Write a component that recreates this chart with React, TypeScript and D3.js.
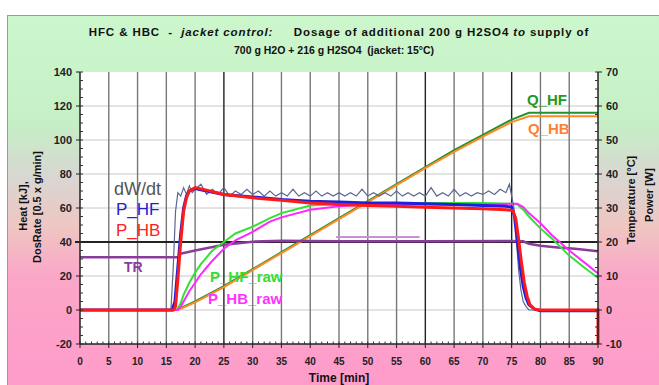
import React from 'react';
import * as d3 from 'd3';

// axis ticks
const timeTicks = [0, 5, 10, 15, 20, 25, 30, 35, 40, 45, 50, 55, 60, 65, 70, 75, 80, 85, 90];
const leftTicks = [-20, 0, 20, 40, 60, 80, 100, 120, 140];
const rightTicks = [-10, 0, 10, 20, 30, 40, 50, 60, 70];
const darkGridTimes = [25, 60, 75];

// series, [time min, value] ; left axis units unless noted
const dWdt: [number, number][] = [
  [0, 0], [15.8, 0], [16.2, 25], [16.6, 58], [17, 69], [17.5, 67], [18, 72], [18.5, 68], [19, 73], [19.5, 69],
  [20, 71], [21, 74], [22, 68], [23, 71], [24, 68], [25, 72], [26, 67], [27, 70], [28, 68], [29, 71],
  [30, 68], [31, 70], [32, 67], [33, 70], [34, 67], [35, 69], [36, 67], [37, 71], [38, 67], [39, 69],
  [40, 67], [41, 70], [42, 67], [43, 69], [44, 67], [45, 69], [46, 67], [47, 69], [48, 67], [49, 71],
  [50, 67], [51, 69], [52, 67], [53, 69], [54, 67], [55, 70], [56, 67], [57, 69], [58, 67], [59, 69],
  [60, 67], [61, 72], [62, 67], [63, 69], [64, 67], [65, 71], [66, 67], [67, 69], [68, 67], [69, 69],
  [70, 68], [71, 70], [72, 68], [73, 71], [74, 69], [74.6, 74], [75, 67], [75.4, 60], [75.8, 42],
  [76.2, 24], [76.6, 12], [77, 5], [77.5, 2], [78, 0], [90, 0],
];

const pHF: [number, number][] = [
  [0, 0], [16, 0], [16.5, 5], [17, 25], [17.5, 45], [18, 60], [18.5, 67], [19, 70], [20, 71.5], [22, 70],
  [25, 68], [30, 66.5], [35, 65], [40, 64], [45, 63.5], [50, 63], [55, 63], [60, 62.5], [65, 62], [70, 61.5],
  [74, 61], [75, 60.5], [75.5, 55], [76, 40], [76.5, 25], [77, 14], [77.5, 7], [78, 3], [79, 0.5], [80, -0.5], [90, -0.5],
];

const pHB: [number, number][] = [
  [0, 0], [16.2, 0], [16.6, 2], [17, 18], [17.5, 40], [18, 58], [18.5, 66], [19, 70], [20, 72], [22, 70.5],
  [25, 68], [30, 66], [35, 64.5], [40, 63], [45, 62], [50, 61.5], [55, 61], [60, 60.5], [65, 60], [70, 59.5],
  [74, 59], [75.2, 58.5], [75.7, 54], [76.2, 42], [76.7, 28], [77.2, 16], [77.7, 8], [78.2, 3], [79, 0.5], [80, 0],
  [90, 0], [90, -20],
];

const pHFraw: [number, number][] = [
  [0, 0], [16.8, 0], [17.5, 4], [18, 9], [19, 16], [20, 22], [21, 27], [22, 31], [23, 35], [25, 40],
  [27, 45], [30, 49], [33, 54], [35, 57], [40, 61.5], [45, 62.5], [50, 63], [55, 63], [60, 63], [65, 63],
  [70, 63], [75, 62.5], [76, 62], [77, 59], [78, 55], [80, 48], [82, 42], [85, 32], [88, 24], [90, 19],
];

const pHBraw: [number, number][] = [
  [0, 0], [17, 0], [17.5, 2], [18, 5], [19, 11], [20, 16], [21, 21], [22, 25], [23, 29], [25, 36],
  [27, 41], [30, 46], [33, 52], [35, 54.5], [40, 59], [45, 61], [50, 62], [55, 62], [60, 62], [65, 62],
  [70, 62], [75, 62.5], [76, 62.5], [77, 60.5], [78, 57], [80, 51], [82, 44], [85, 35], [88, 27], [90, 21.5],
];

const qHF: [number, number][] = [
  [0, 0], [16.8, 0], [20, 5], [25, 14], [30, 24], [35, 34], [40, 44], [45, 54], [50, 64], [55, 74],
  [60, 84], [65, 94], [70, 103], [75, 112], [78, 116], [90, 116],
];

const qHB: [number, number][] = [
  [0, 0], [17, 0], [20, 4.5], [25, 13.5], [30, 23.5], [35, 33.5], [40, 43.5], [45, 53.5], [50, 63.5], [55, 73.5],
  [60, 83.5], [65, 93], [70, 102], [75, 110.5], [78, 114], [90, 114],
];

// temperatures, right axis [°C]
const tR: [number, number][] = [
  [0, 15.5], [17.2, 15.5], [17.4, 16.5], [20, 17.5], [25, 19.2], [30, 20.1], [35, 20.4], [40, 20.3],
  [45, 20.2], [60, 20.2], [75, 20.3], [77, 20.2], [78, 19.5], [80, 18.9], [83, 18.4], [86, 18], [90, 17.3],
];
const tRset: [number, number][] = [[44.5, 21.5], [59, 21.5]];
const refTemp = 20;

const W = 659;
const H = 385;
const plot = { left: 80, right: 598, top: 72, bottom: 344 };

const App: React.FC = () => {
  const x = d3.scaleLinear().domain([0, 90]).range([plot.left, plot.right]);
  const yL = d3.scaleLinear().domain([-20, 140]).range([plot.bottom, plot.top]);
  const yR = d3.scaleLinear().domain([-10, 70]).range([plot.bottom, plot.top]);

  const lineL = d3.line<[number, number]>().x(d => x(d[0])).y(d => yL(d[1]));
  const lineR = d3.line<[number, number]>().x(d => x(d[0])).y(d => yR(d[1]));

  const minorTime = d3.range(0, 91, 1);
  const minorLeft = d3.range(-20, 141, 5);

  const font = 'Liberation Sans, Arial, sans-serif';

  return (
    <svg width={W} height={H} style={{ position: 'absolute', left: 0, top: 0 }} fontFamily={font}>
      <defs>
        <linearGradient id="bg" x1="0" y1="0" x2="0" y2="1">
          <stop offset="0%" stopColor="#ccf7cc" />
          <stop offset="28%" stopColor="#c6efc6" />
          <stop offset="42%" stopColor="#d9d6d2" />
          <stop offset="55%" stopColor="#efc6c2" />
          <stop offset="68%" stopColor="#fba6c8" />
          <stop offset="100%" stopColor="#ff9acb" />
        </linearGradient>
      </defs>
      <rect x={0} y={0} width={W} height={H} fill="#fff" />
      <rect x={7.5} y={15.5} width={W} height={H} fill="url(#bg)" stroke="#9a9a9a" />

      {/* title */}
      <text x={339} y={36} textAnchor="middle" fontSize={11.5} letterSpacing={0.9} fontWeight="bold" fill="#111" style={{ whiteSpace: 'pre' }}>
        {'HFC & HBC  -  '}<tspan fontStyle="italic">jacket control:</tspan>{'     Dosage of additional 200 g H2SO4 '}<tspan fontStyle="italic">to</tspan>{' supply of'}
      </text>
      <text x={334} y={54} textAnchor="middle" fontSize={10.5} fontWeight="bold" fill="#111" style={{ whiteSpace: 'pre' }}>
        {'700 g H2O + 216 g H2SO4  (jacket: 15°C)'}
      </text>

      {/* plot area */}
      <rect x={plot.left} y={plot.top} width={plot.right - plot.left} height={plot.bottom - plot.top} fill="#fff" />

      {leftTicks.filter(v => v !== -20 && v !== 140 && v !== 40).map(v => (
        <line key={'h' + v} x1={plot.left} x2={plot.right} y1={yL(v)} y2={yL(v)} stroke="#c8c8c8" strokeWidth={1} />
      ))}
      {timeTicks.filter(t => t > 0 && t < 90).map(t => (
        <line key={'v' + t} x1={x(t)} x2={x(t)} y1={plot.top} y2={plot.bottom}
          stroke={darkGridTimes.includes(t) ? '#222' : '#777'} strokeWidth={1.4} />
      ))}

      {/* reference temperature line */}
      <line x1={x(0) - 5} x2={plot.right} y1={yR(refTemp)} y2={yR(refTemp)} stroke="#222" strokeWidth={2} />

      {/* series */}
      <path d={lineL(qHF) || ''} fill="none" stroke="#22922a" strokeWidth={2} />
      <path d={lineL(qHB) || ''} fill="none" stroke="#ff8a2a" strokeWidth={2} />
      <path d={lineR(tRset) || ''} fill="none" stroke="#c890d4" strokeWidth={2} />
      <path d={lineR(tR) || ''} fill="none" stroke="#8a3c9c" strokeWidth={2.5} />
      <path d={lineL(pHFraw) || ''} fill="none" stroke="#35e035" strokeWidth={2} />
      <path d={lineL(pHBraw) || ''} fill="none" stroke="#ff28ff" strokeWidth={2} />
      <path d={lineL(dWdt) || ''} fill="none" stroke="#5a6890" strokeWidth={1.2} />
      <path d={lineL(pHF) || ''} fill="none" stroke="#1f1fe0" strokeWidth={3} />
      <path d={lineL(pHB) || ''} fill="none" stroke="#ff1a1a" strokeWidth={3} />

      {/* axes */}
      <line x1={plot.left} x2={plot.left} y1={plot.top} y2={plot.bottom} stroke="#222" strokeWidth={1.5} />
      <line x1={plot.right} x2={plot.right} y1={plot.top} y2={plot.bottom} stroke="#222" strokeWidth={1.5} />
      <line x1={plot.left} x2={plot.right} y1={plot.bottom} y2={plot.bottom} stroke="#222" strokeWidth={1.5} />

      {minorLeft.map(v => (
        <g key={'ml' + v}>
          <line x1={plot.left} x2={plot.left + 3} y1={yL(v)} y2={yL(v)} stroke="#333" />
          <line x1={plot.right} x2={plot.right - 3} y1={yL(v)} y2={yL(v)} stroke="#333" />
        </g>
      ))}
      {minorTime.map(t => (
        <line key={'mt' + t} x1={x(t)} x2={x(t)} y1={plot.bottom} y2={plot.bottom - 2.5} stroke="#333" />
      ))}

      {leftTicks.map(v => (
        <g key={'lt' + v}>
          <line x1={plot.left - 4} x2={plot.left} y1={yL(v)} y2={yL(v)} stroke="#222" />
          <text x={72} y={yL(v)} dy="0.35em" textAnchor="end" fontSize={11} fontWeight="bold" fill="#222">{v}</text>
        </g>
      ))}
      {rightTicks.map(v => (
        <g key={'rt' + v}>
          <line x1={plot.right} x2={plot.right + 4} y1={yR(v)} y2={yR(v)} stroke="#222" />
          <text x={606} y={yR(v)} dy="0.35em" textAnchor="start" fontSize={11} fontWeight="bold" fill="#222">{v}</text>
        </g>
      ))}
      {timeTicks.map(t => (
        <g key={'tt' + t}>
          <line x1={x(t)} x2={x(t)} y1={plot.bottom} y2={plot.bottom + 4} stroke="#222" />
          <text x={x(t)} y={361} dy="0.35em" textAnchor="middle" fontSize={10} fontWeight="bold" fill="#222">{t}</text>
        </g>
      ))}

      {/* axis titles */}
      <text x={339} y={382} textAnchor="middle" fontSize={12} fontWeight="bold" fill="#111">Time [min]</text>
      <text transform="translate(27,206) rotate(-90)" textAnchor="middle" fontSize={11} fontWeight="bold" fill="#111">Heat [kJ],</text>
      <text transform="translate(41,207) rotate(-90)" textAnchor="middle" fontSize={11} fontWeight="bold" fill="#111">DosRate [0.5 x g/min]</text>
      <text transform="translate(635,200) rotate(-90)" textAnchor="middle" fontSize={11} fontWeight="bold" fill="#111">Temperature [°C]</text>
      <text transform="translate(653,195) rotate(-90)" textAnchor="middle" fontSize={11} fontWeight="bold" fill="#111">Power [W]</text>

      {/* series labels */}
      <text x={114} y={195} fontSize={18} fill="#555">dW/dt</text>
      <text x={116} y={215} fontSize={17} fill="#2222cc">P_HF</text>
      <text x={116} y={236} fontSize={17} fill="#ff2020">P_HB</text>
      <text x={124} y={272} fontSize={14} fontWeight="bold" fill="#8a3ca0">TR</text>
      <text x={210} y={282} fontSize={15} fontWeight="bold" fill="#33dd33">P_HF_raw</text>
      <text x={208} y={304} fontSize={15} fontWeight="bold" fill="#ff33ff">P_HB_raw</text>
      <text x={527} y={105} fontSize={15} fontWeight="bold" fill="#229922">Q_HF</text>
      <text x={528} y={134} fontSize={15} fontWeight="bold" fill="#ff8030">Q_HB</text>
    </svg>
  );
};

export default App;
